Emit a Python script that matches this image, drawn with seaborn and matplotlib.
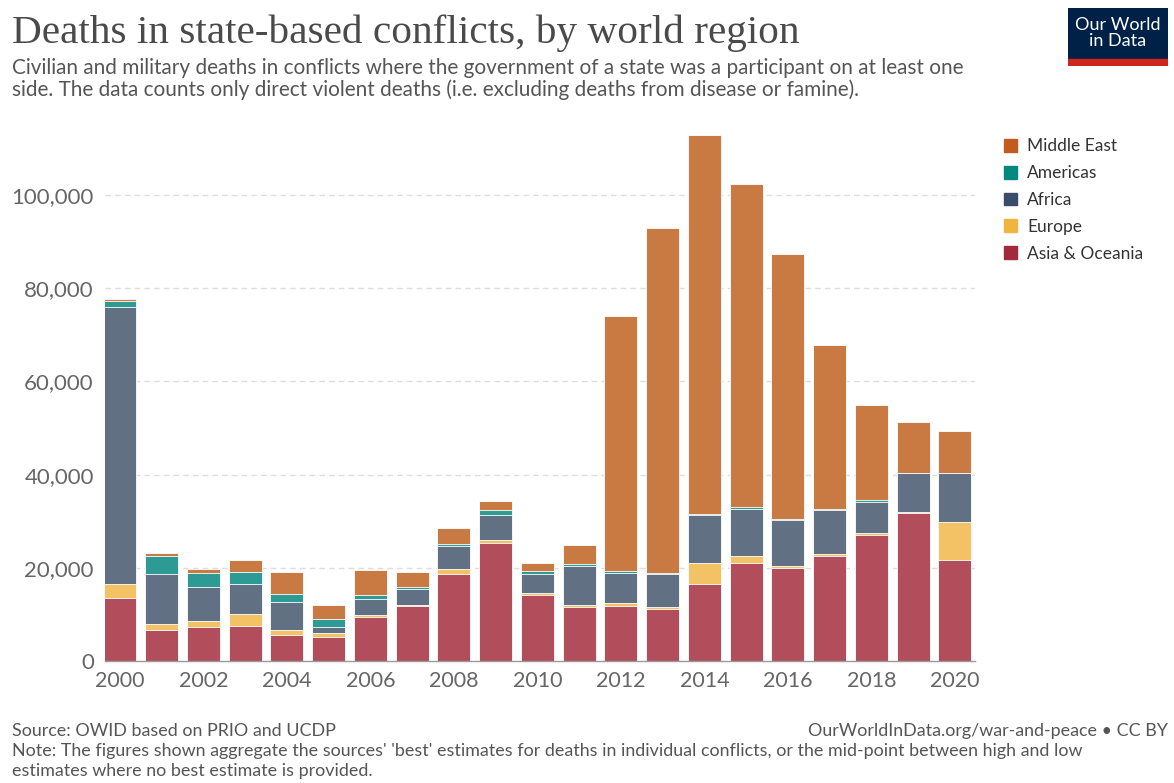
import numpy as np
import pandas as pd
import matplotlib
matplotlib.use("Agg")
import matplotlib.pyplot as plt
import matplotlib.patches as mpatches
import seaborn as sns

years = list(range(2000, 2021))
asia_oceania = [13600, 6650, 7220, 7580, 5500, 5080, 9370, 11800, 18730, 25240, 14160,
                11580, 11900, 11130, 16500, 21030, 20030, 22490, 27090, 31700, 21720]
europe = [2850, 1290, 1360, 2430, 1080, 850, 500, 210, 1080, 640, 500,
          430, 550, 380, 4610, 1460, 460, 460, 390, 300, 8060]
africa = [59550, 10650, 7220, 6440, 6000, 1430, 3430, 3360, 4860, 5510, 3930,
          8440, 6510, 7060, 10200, 10210, 9830, 9360, 6750, 8290, 10510]
americas = [1300, 3930, 3000, 2710, 1720, 1580, 860, 570, 360, 1000, 720,
            430, 460, 230, 230, 300, 230, 310, 230, 160, 160]
middle_east = [300, 570, 860, 2500, 4790, 3140, 5360, 3080, 3430, 2000, 1640,
               4000, 54640, 74070, 81280, 69460, 56790, 35300, 20420, 10740, 8820]

regions = ["Asia & Oceania", "Europe", "Africa", "Americas", "Middle East"]
series = [asia_oceania, europe, africa, americas, middle_east]
bar_colors = ["#B24D5B", "#F2C265", "#627083", "#2E9A94", "#C97942"]
key_colors = ["#A22A3D", "#F0B43F", "#3A4C6B", "#018880", "#C15B20"]

df = pd.DataFrame({"year": years})
for name, vals in zip(regions, series):
    df[name] = vals
cum = df[regions].cumsum(axis=1)

sns.set_theme(style="white")
plt.rcParams["font.family"] = ["Lato", "DejaVu Sans"]

fig = plt.figure(figsize=(11.74, 7.83), dpi=100)
ax = fig.add_axes([0.0894, 0.1558, 0.7411, 0.6844])

# stacked bars: draw cumulative totals from the top layer down
for name, col in reversed(list(zip(regions, bar_colors))):
    sns.barplot(x=df["year"].astype(str), y=cum[name], color=col, width=0.79,
                edgecolor="white", linewidth=0.6, saturation=1, ax=ax)

ax.set_ylim(0, 115000)
ax.set_xlim(-0.36, 20.48)
ax.set_xlabel("")
ax.set_ylabel("")

yt = [0, 20000, 40000, 60000, 80000, 100000]
ax.set_yticks(yt)
ax.set_yticklabels([f"{v:,}" for v in yt], fontsize=16, color="#666666")
for v in yt[1:]:
    ax.axhline(v, color="#dddddd", lw=1, ls=(0, (4, 3)), zorder=0)

xt = list(range(0, 21, 2))
ax.set_xticks(xt)
ax.set_xticklabels([str(years[i]) for i in xt], fontsize=15.5, color="#666666")
ax.tick_params(axis="x", length=5, width=1, color="#999999", pad=2)
ax.tick_params(axis="y", length=0, pad=8)
for s in ["top", "right", "left"]:
    ax.spines[s].set_visible(False)
ax.spines["bottom"].set_color("#999999")
ax.spines["bottom"].set_linewidth(1)
ax.set_axisbelow(True)

# legend on the right
handles = [mpatches.Patch(color=c, label=n) for n, c in zip(regions, key_colors)][::-1]
fig.legend(handles=handles, loc="upper left", bbox_to_anchor=(0.849, 0.832),
           frameon=False, fontsize=12.5, handlelength=0.75, handleheight=0.75,
           handletextpad=0.6, labelspacing=0.62, labelcolor="#333333",
           borderaxespad=0)

# header
fig.text(0.010, 0.945, "Deaths in state-based conflicts, by world region",
         family=["Liberation Serif", "DejaVu Serif"], fontsize=29.7, color="#4a4a4a",
         va="baseline")
fig.text(0.010, 0.906, "Civilian and military deaths in conflicts where the government of a state was a participant on at least one",
         fontsize=14.95, color="#555555", va="baseline")
fig.text(0.010, 0.877, "side. The data counts only direct violent deaths (i.e. excluding deaths from disease or famine).",
         fontsize=14.95, color="#555555", va="baseline")

# logo
logo = fig.add_axes([1068/1174, 1 - 66/783, 100/1174, 58/783])
logo.set_xlim(0, 1)
logo.set_ylim(0, 1)
logo.axis("off")
logo.add_patch(mpatches.Rectangle((0, 0.12), 1, 0.88, color="#002147"))
logo.add_patch(mpatches.Rectangle((0, 0), 1, 0.12, color="#CE261E"))
logo.text(0.5, 0.57, "Our World\nin Data", color="white", ha="center", va="center",
          fontsize=13, linespacing=1.0)

# footer
fig.text(0.010, 0.060, "Source: OWID based on PRIO and UCDP", fontsize=12.85,
         color="#555555", va="baseline")
fig.text(0.995, 0.060, "OurWorldInData.org/war-and-peace \u2022 CC BY", fontsize=12.85,
         color="#555555", va="baseline", ha="right")
fig.text(0.010, 0.034, "Note: The figures shown aggregate the sources' 'best' estimates for deaths in individual conflicts, or the mid-point between high and low",
         fontsize=12.85, color="#555555", va="baseline")
fig.text(0.010, 0.009, "estimates where no best estimate is provided.",
         fontsize=12.85, color="#555555", va="baseline")

fig.savefig("out.png", dpi=100, facecolor="white")
